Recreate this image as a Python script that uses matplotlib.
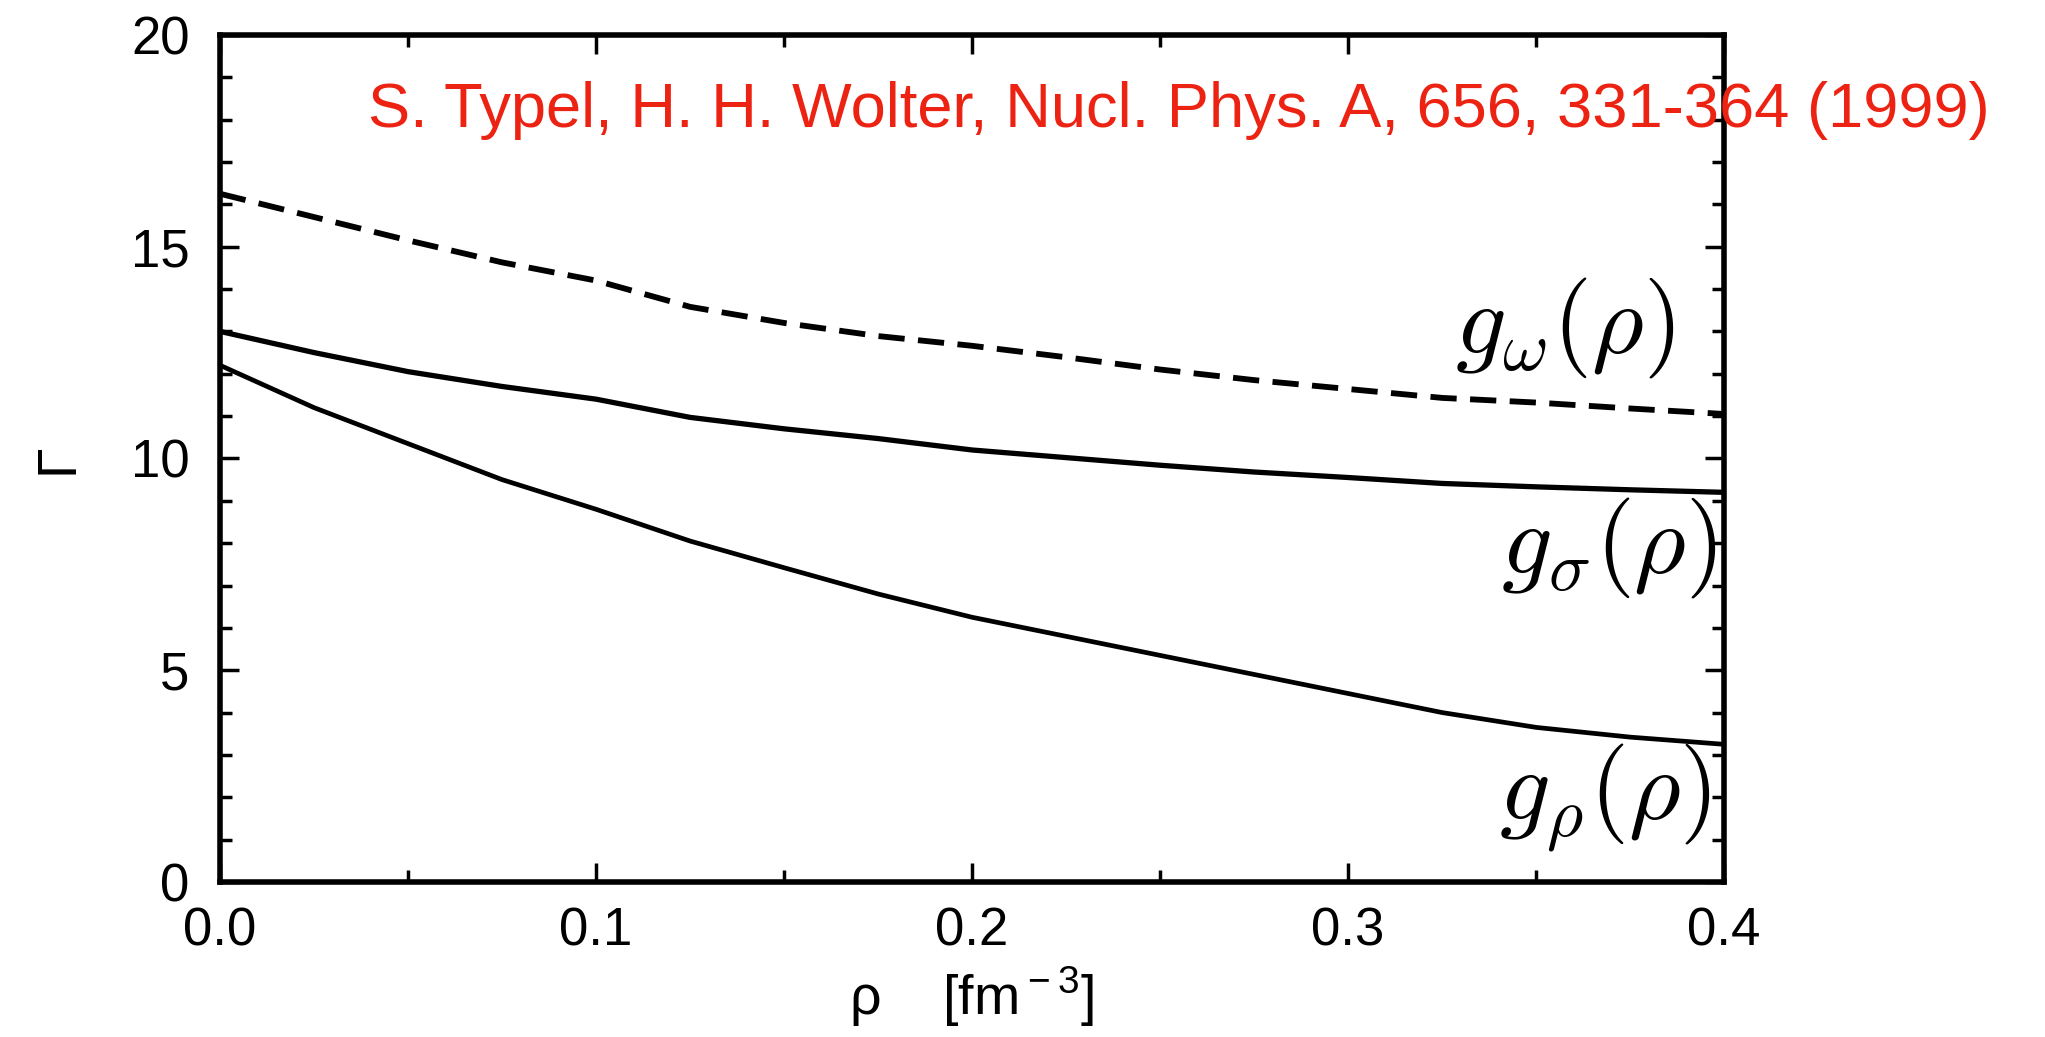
import matplotlib
matplotlib.use('Agg')
import matplotlib.pyplot as plt
from matplotlib.ticker import MultipleLocator

plt.rcParams['font.family'] = ['Liberation Sans', 'DejaVu Sans']
plt.rcParams['mathtext.fontset'] = 'custom'
plt.rcParams['mathtext.rm'] = 'Liberation Sans'

# density rho [fm^-3] and couplings
rho = [0.0, 0.025, 0.05, 0.075, 0.1, 0.125, 0.15, 0.175, 0.2,
       0.225, 0.25, 0.275, 0.3, 0.325, 0.35, 0.375, 0.4]
g_omega = [16.25, 15.7, 15.15, 14.63, 14.2, 13.58, 13.2, 12.89, 12.66,
           12.39, 12.1, 11.85, 11.64, 11.43, 11.32, 11.18, 11.05]
g_sigma = [13.0, 12.5, 12.05, 11.7, 11.4, 10.97, 10.7, 10.47, 10.2,
           10.02, 9.84, 9.68, 9.55, 9.41, 9.33, 9.26, 9.2]
g_rho = [12.2, 11.2, 10.35, 9.5, 8.8, 8.05, 7.42, 6.8, 6.25,
         5.8, 5.35, 4.9, 4.45, 4.0, 3.65, 3.42, 3.25]

labels = [r'$g_\omega(\rho)$', r'$g_\sigma(\rho)$', r'$g_\rho(\rho)$']
label_pos = [(0.3867, 13.09), (0.398, 7.89), (0.3965, 2.0)]
ref_text = 'S. Typel, H. H. Wolter, Nucl. Phys. A, 656, 331-364 (1999)'

fig = plt.figure(figsize=(20.45, 10.37), dpi=100)
ax = fig.add_axes([0.1076, 0.1495, 0.7355, 0.8168])

ax.plot(rho, g_omega, color='black', lw=4.2, dashes=(4.5, 2.3))
ax.plot(rho, g_sigma, color='black', lw=3.8)
ax.plot(rho, g_rho, color='black', lw=3.4)

ax.set_xlim(0, 0.4)
ax.set_ylim(0, 20)
ax.xaxis.set_major_locator(MultipleLocator(0.1))
ax.xaxis.set_minor_locator(MultipleLocator(0.05))
ax.yaxis.set_major_locator(MultipleLocator(5))
ax.yaxis.set_minor_locator(MultipleLocator(1))
ax.xaxis.set_major_formatter(matplotlib.ticker.FormatStrFormatter('%.1f'))

for sp in ax.spines.values():
    sp.set_linewidth(4)
ax.tick_params(which='both', direction='in', top=True, right=True, width=2.5, labelsize=38)
ax.tick_params(which='major', length=14)
ax.tick_params(which='minor', length=8.5)
ax.tick_params(axis='y', which='major', pad=22)
ax.tick_params(axis='x', which='major', pad=18)

ax.set_xlabel(r'ρ    [fm$^{\rm -3}$]', fontsize=40)
ax.xaxis.set_label_coords(0.5, -0.098)
ax.set_ylabel('Γ', fontsize=40)
ax.yaxis.set_label_coords(-0.09, 0.5)

for lab, (xp, yp) in zip(labels, label_pos):
    ax.text(xp, yp, lab, fontsize=72, ha='right', va='center', math_fontfamily='cm')

fig.text(368 / 2045, 1 - 127 / 1037, ref_text, color='#ec2312', fontsize=45.5,
         ha='left', va='baseline')

plt.savefig('out.png', dpi=100)
